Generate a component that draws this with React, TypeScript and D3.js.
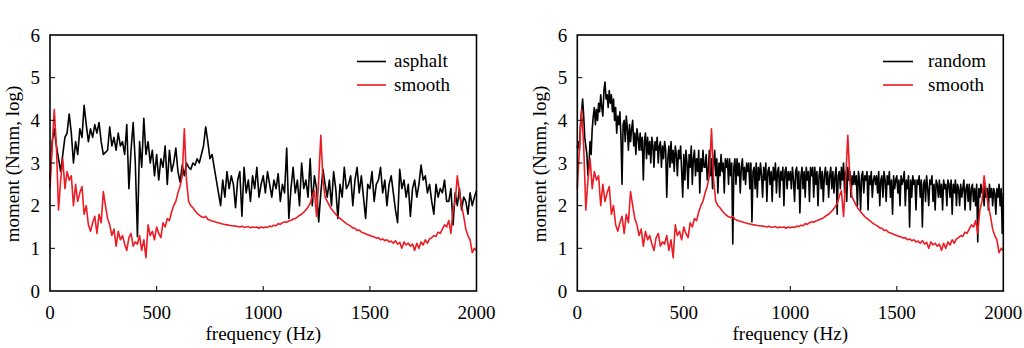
import React from "react";
import * as d3 from "d3";

// ---------- data ----------
const xTicks = [0, 500, 1000, 1500, 2000];
const yTicks = [0, 1, 2, 3, 4, 5, 6];

// smooth road (same in both panels), 10 Hz step, 0..2000 Hz
const smoothStep = 10;
const smooth = [
  2.4, 3.35, 4.25, 3.4, 1.9, 2.6, 3.1, 2.4, 2.8, 2.6,
  2.7, 2.0, 2.5, 2.1, 2.3, 2.45, 1.8, 2.0, 1.55, 1.4,
  1.6, 1.75, 1.35, 1.8, 1.6, 2.33, 2.0, 1.7, 1.55, 1.3,
  1.45, 1.05, 1.4, 1.2, 1.3, 1.1, 0.95, 1.25, 1.35, 1.05,
  1.15, 1.1, 1.3, 0.95, 1.2, 0.78, 1.55, 1.3, 1.4, 1.2,
  1.5, 1.35, 1.25, 1.6, 1.5, 1.7, 1.65, 1.85, 2.0, 2.1,
  2.3, 2.45, 2.7, 3.8, 2.6, 2.1, 2.0, 1.95, 1.88, 1.82,
  1.78, 1.74, 1.72, 1.75, 1.68, 1.66, 1.64, 1.63, 1.61, 1.6,
  1.58, 1.57, 1.56, 1.55, 1.54, 1.53, 1.53, 1.52, 1.51, 1.5,
  1.52, 1.49, 1.5, 1.51, 1.48, 1.5, 1.49, 1.5, 1.47, 1.5,
  1.48, 1.5, 1.49, 1.52, 1.51, 1.54, 1.53, 1.58, 1.56, 1.6,
  1.62, 1.61, 1.64, 1.66, 1.68, 1.7, 1.73, 1.77, 1.8, 1.85,
  1.9, 1.97, 2.05, 2.22, 2.35, 1.75, 2.6, 3.65, 2.6, 2.2,
  2.1, 2.0, 1.92, 1.86, 1.8, 1.74, 1.7, 1.66, 1.62, 1.58,
  1.55, 1.52, 1.48, 1.47, 1.42, 1.43, 1.38, 1.36, 1.34, 1.32,
  1.3, 1.28, 1.27, 1.24, 1.25, 1.2, 1.22, 1.18, 1.2, 1.15,
  1.17, 1.12, 1.18, 1.1, 1.14, 1.0, 1.15, 1.08, 1.12, 1.05,
  1.1, 0.95, 1.12, 1.0, 1.15, 1.08, 1.2, 1.12, 1.22, 1.25,
  1.3, 1.28, 1.38, 1.35, 1.45, 1.55, 1.5, 1.65, 1.35, 1.9,
  2.1, 2.7, 2.3, 2.0, 1.75, 1.45, 1.3, 1.2, 0.9, 1.0,
  0.95,
];

// asphalt road, 10 Hz step
const asphaltStep = 10;
const asphalt = [
  2.6, 3.5, 3.8, 3.4, 3.1, 2.8, 3.2, 3.6, 3.7, 4.15,
  3.7, 3.0, 3.5, 3.2, 3.8, 3.6, 4.35, 3.9, 3.5, 3.8,
  3.6, 3.9, 3.7, 3.95, 3.5, 3.2, 3.25, 3.3, 3.85, 3.4,
  3.6, 3.3, 3.7, 3.4, 3.5, 3.2, 3.9, 2.4, 3.3, 3.95,
  3.0, 1.27, 3.5, 2.9, 4.05, 3.2, 3.5, 3.0, 3.3, 2.7,
  3.2, 2.6, 3.1, 2.9, 3.4, 2.5, 3.3, 2.8, 3.0, 3.35,
  2.8, 2.55, 2.95, 2.7, 3.0, 2.9, 2.85, 3.0, 2.95, 3.1,
  3.0, 3.2, 3.4, 3.85, 3.5, 3.1, 3.2, 2.9, 2.6, 2.3,
  2.0, 2.6, 2.2, 2.8, 2.4, 2.7, 2.5, 1.95, 2.6, 2.8,
  1.75, 2.9, 2.3, 2.6, 2.1, 2.7, 2.4, 2.9, 2.2, 2.5,
  2.7, 2.3, 2.8, 2.5, 2.2, 2.6, 2.4, 2.75, 2.1, 2.5,
  2.3, 3.35, 1.7, 2.4, 2.9, 2.3, 2.6, 2.0, 3.0, 2.4,
  2.6, 2.2, 3.1, 2.0, 2.7, 2.4, 1.62, 2.3, 2.85, 2.5,
  2.2, 2.6, 2.0, 2.8, 2.4, 1.7, 2.5, 2.2, 2.9, 2.4,
  2.5, 2.7, 2.0, 2.6, 2.9, 2.3, 2.7, 2.2, 1.7, 2.5,
  2.4, 2.8, 2.1, 2.5, 2.6, 2.9, 2.3, 2.6, 2.0, 2.5,
  2.7, 2.3, 1.9, 1.6, 2.85, 2.4, 2.6, 2.2, 2.5, 1.75,
  2.4, 2.6, 2.2, 2.5, 2.95, 2.6, 2.7, 2.3, 2.5, 2.1,
  1.8, 2.5, 2.2, 2.4, 2.3, 2.6, 2.1, 2.1, 2.4, 1.55,
  2.3, 2.0, 2.4, 1.9, 2.2, 2.1, 1.8, 2.3, 2.0, 2.2,
  2.35,
];

// random road, 5 Hz step
const randomStep = 5;
const random = [
  3.35, 3.5, 3.3, 3.9, 4.2, 4.5, 4.1, 3.6, 3.4, 3.2, 2.7, 3.0, 3.5, 3.2, 3.8, 4.1, 4.3, 3.9, 4.25, 4.0,
  4.4, 4.2, 4.6, 4.3, 4.1, 4.7, 4.9, 4.5, 4.6, 4.3, 4.7, 4.4, 4.6, 4.2, 4.5, 4.0, 4.3, 3.7, 4.1, 3.9,
  4.2, 3.6, 2.5, 3.9, 4.0, 3.5, 4.1, 3.8, 3.3, 3.9, 3.5, 3.8, 4.0, 3.4, 3.7, 3.2, 3.8, 3.6, 3.3, 3.7,
  3.3, 3.6, 2.6, 3.5, 3.7, 3.1, 3.6, 3.2, 3.5, 3.0, 3.6, 3.4, 2.9, 3.5, 3.3, 3.6, 3.0, 3.4, 3.5, 2.9,
  3.4, 3.1, 3.5, 3.3, 2.2, 3.1, 3.4, 2.9, 3.5, 3.0, 3.3, 2.8, 3.4, 3.2, 2.7, 3.3, 3.1, 3.4, 2.8, 2.2,
  3.2, 2.6, 3.3, 3.0, 2.4, 3.2, 2.9, 3.4, 2.5, 3.1, 3.3, 2.7, 3.1, 2.8, 3.3, 2.3, 3.1, 2.8, 3.3, 2.9,
  2.9, 3.2, 2.6, 2.8, 3.3, 2.7, 3.1, 2.4, 3.0, 3.3, 2.7, 3.1, 2.3, 3.0, 2.7, 3.2, 2.8, 3.0, 2.3, 3.1,
  2.9, 3.1, 2.5, 3.1, 2.7, 3.0, 1.1, 2.9, 3.1, 2.5, 3.1, 2.7, 3.0, 2.3, 2.9, 3.1, 2.6, 2.9, 2.5, 3.0,
  2.8, 3.0, 2.4, 3.0, 1.62, 2.8, 2.9, 2.4, 3.0, 2.2, 2.9, 2.6, 3.0, 2.7, 2.2, 2.9, 2.6, 3.0, 2.1, 2.8,
  2.9, 2.5, 2.8, 2.1, 2.9, 2.6, 3.0, 2.3, 2.8, 2.9, 2.2, 2.8, 2.6, 2.9, 2.0, 2.8, 2.9, 2.4, 2.8, 2.6,
  2.8, 2.4, 2.9, 2.6, 2.1, 2.8, 2.9, 2.4, 2.8, 1.83, 2.7, 2.9, 2.4, 2.8, 2.2, 2.9, 2.6, 2.8, 2.1, 2.9,
  2.7, 2.9, 2.2, 2.9, 2.5, 2.8, 2.0, 2.7, 2.9, 2.4, 2.8, 2.1, 2.7, 2.9, 2.5, 2.8, 2.2, 2.7, 2.9, 2.4,
  2.8, 2.3, 2.7, 2.9, 1.8, 2.7, 2.8, 2.4, 2.9, 2.6, 3.0, 2.3, 2.8, 2.1, 2.9, 2.6, 2.8, 2.2, 2.7, 2.5,
  2.8, 2.5, 2.7, 2.0, 2.8, 2.6, 1.9, 2.7, 2.8, 2.3, 2.7, 2.6, 2.8, 1.9, 2.7, 2.5, 2.8, 2.2, 2.6, 2.7,
  2.5, 2.7, 2.3, 2.8, 2.0, 2.6, 2.7, 2.2, 2.8, 2.6, 2.1, 2.7, 2.5, 2.8, 2.2, 2.6, 1.8, 2.7, 2.4, 2.6,
  2.7, 2.3, 2.6, 2.0, 2.7, 2.5, 2.6, 2.8, 2.0, 2.6, 2.4, 2.7, 1.5, 2.6, 2.2, 2.7, 2.5, 2.6, 1.9, 2.6,
  2.5, 2.7, 2.2, 2.6, 1.5, 2.5, 2.6, 2.1, 2.7, 2.4, 2.0, 2.6, 2.5, 2.7, 2.1, 2.5, 1.9, 2.6, 2.5, 2.2,
  2.6, 2.2, 2.5, 1.9, 2.6, 2.4, 2.5, 2.0, 2.6, 2.5, 2.2, 2.6, 1.8, 2.5, 2.3, 2.6, 2.0, 2.5, 2.4, 2.0,
  2.5, 2.2, 2.4, 2.6, 1.9, 2.4, 2.5, 2.1, 2.5, 1.9, 2.4, 2.5, 2.1, 2.4, 2.0, 2.5, 1.15, 2.4, 2.2, 2.5,
  2.3, 2.4, 2.0, 2.5, 2.2, 2.4, 1.9, 2.5, 2.2, 2.4, 2.0, 2.4, 2.3, 1.8, 2.4, 2.2, 2.5, 2.0, 2.4, 1.35,
  2.3,
];

const xLabel = "frequency (Hz)";
const yLabel = "moment (Nmm, log)";

// ---------- chart ----------
const FONT = "'Liberation Serif', 'Times New Roman', serif";
const RED = "#ec1c24";
const TOP = 35;
const BOTTOM = 291;

type PanelProps = {
  left: number;
  right: number;
  black: number[];
  blackStep: number;
  blackName: string;
  legendLine: [number, number];
  legendText: number;
};

function Panel({ left, right, black, blackStep, blackName, legendLine, legendText }: PanelProps) {
  const x = d3.scaleLinear().domain([0, 2000]).range([left, right]);
  const y = d3.scaleLinear().domain([0, 6]).range([BOTTOM, TOP]);
  const lineGen = (step: number) =>
    d3
      .line<number>()
      .x((_, i) => x(i * step))
      .y((d) => y(d));
  const blackPath = lineGen(blackStep)(black) || "";
  const redPath = lineGen(smoothStep)(smooth) || "";
  const tickLen = 5;
  return (
    <g>
      <path d={blackPath} fill="none" stroke="#000" strokeWidth={1.6} strokeLinejoin="round" />
      <path d={redPath} fill="none" stroke={RED} strokeWidth={1.6} strokeLinejoin="round" />
      <rect
        x={left}
        y={TOP}
        width={right - left}
        height={BOTTOM - TOP}
        fill="none"
        stroke="#000"
        strokeWidth={1.6}
      />
      {xTicks.map((t) => (
        <g key={"x" + t}>
          {t > 0 && t < 2000 && (
            <line x1={x(t)} x2={x(t)} y1={BOTTOM} y2={BOTTOM - tickLen} stroke="#000" strokeWidth={1} />
          )}
          <text x={x(t)} y={319} textAnchor="middle" fontFamily={FONT} fontSize={19} fill="#000">
            {t}
          </text>
        </g>
      ))}
      {yTicks.map((t) => (
        <g key={"y" + t}>
          {t > 0 && t < 6 && (
            <line x1={left} x2={left + tickLen} y1={y(t)} y2={y(t)} stroke="#000" strokeWidth={1} />
          )}
          <text
            x={left - 10}
            y={y(t) + 6.5}
            textAnchor="end"
            fontFamily={FONT}
            fontSize={19}
            fill="#000"
          >
            {t}
          </text>
        </g>
      ))}
      <text
        x={(left + right) / 2}
        y={340}
        textAnchor="middle"
        fontFamily={FONT}
        fontSize={19}
        fill="#000"
      >
        {xLabel}
      </text>
      <text
        transform={`translate(${left - 31},${164}) rotate(-90)`}
        textAnchor="middle"
        fontFamily={FONT}
        fontSize={19}
        fill="#000"
      >
        {yLabel}
      </text>
      <line x1={legendLine[0]} x2={legendLine[1]} y1={61.5} y2={61.5} stroke="#000" strokeWidth={1.6} />
      <text x={legendText} y={67} fontFamily={FONT} fontSize={19} fill="#000">
        {blackName}
      </text>
      <line x1={legendLine[0]} x2={legendLine[1]} y1={85} y2={85} stroke={RED} strokeWidth={1.6} />
      <text x={legendText} y={90.5} fontFamily={FONT} fontSize={19} fill="#000">
        smooth
      </text>
    </g>
  );
}

export default function App() {
  return (
    <svg
      width={1024}
      height={348}
      style={{ position: "absolute", left: 0, top: 0, background: "#fff" }}
    >
      <rect width={1024} height={348} fill="#fff" />
      <Panel
        left={50}
        right={476.5}
        black={asphalt}
        blackStep={asphaltStep}
        blackName="asphalt"
        legendLine={[357, 386]}
        legendText={394}
      />
      <Panel
        left={577.3}
        right={1003.3}
        black={random}
        blackStep={randomStep}
        blackName="random"
        legendLine={[883, 913]}
        legendText={928}
      />
    </svg>
  );
}
